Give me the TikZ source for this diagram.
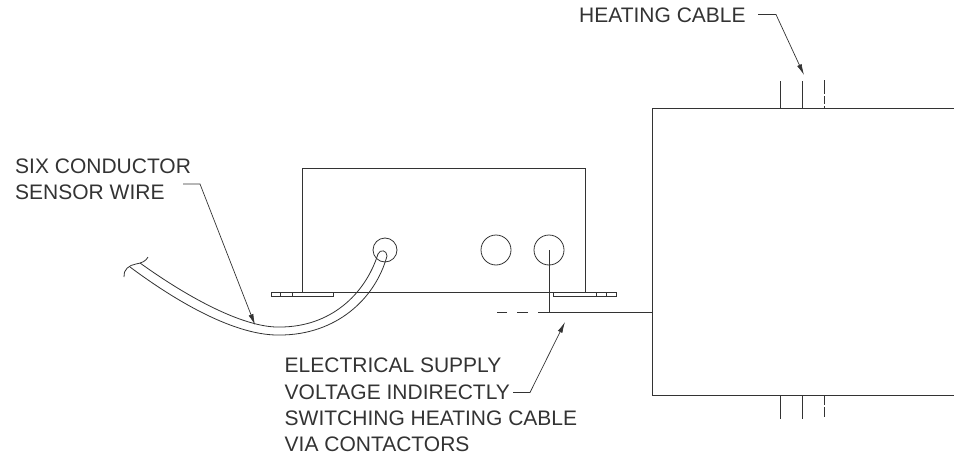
\documentclass[tikz,border=0pt]{standalone}
\usepackage{fontspec}
\setmainfont{Liberation Sans}
\usetikzlibrary{arrows.meta}
\definecolor{inkline}{HTML}{333333}
\tikzset{
  part/.style={draw=inkline,line width=1pt},
  thin part/.style={draw=inkline,line width=0.8pt},
  leader/.style={draw=inkline,line width=0.7pt,-{Latex[length=11pt,width=5pt]}},
  callout/.style={inner sep=0pt,anchor=north west,align=left,text=inkline,
    font=\fontsize{21}{26.3}\selectfont}
}
\begin{document}
\begin{tikzpicture}[x=1pt,y=-1pt]
\useasboundingbox (0,0) rectangle (954,455);

\node[callout] (heatlabel) at (579,7.5) {HEATING CABLE};
\node[callout] (sensorlabel) at (15,158.5) {SIX CONDUCTOR\\SENSOR WIRE};
\node[callout] (supplylabel) at (284.5,358) {ELECTRICAL SUPPLY\\VOLTAGE INDIRECTLY\\SWITCHING HEATING CABLE\\VIA CONTACTORS};

% enclosure
\draw[part] (302,292.5) -- (302,168) -- (585,168) -- (585,292.5);
\draw[part] (333,292.5) -- (553,292.5);
\draw[thin part]
(271,292.5) rectangle (333,296.5)
(280,292.5) -- (280,296.5)
(292,292.5) -- (292,296.5);
\draw[thin part]
(553,292.5) rectangle (616,296.5)
(596,292.5) -- (596,296.5)
(606,292.5) -- (606,296.5);
\node[circle,thin part,minimum size=24pt,inner sep=0pt] (sensorgland) at (385,250) {};
\node[circle,thin part,minimum size=30pt,inner sep=0pt] (sparegland) at (496,250) {};
\node[circle,thin part,minimum size=30pt,inner sep=0pt] (supplygland) at (549,250) {};

% panel
\draw[part] (954,108) -- (652,108) -- (652,395) -- (954,395);
\coordinate (panelfeed) at (652,312);
\draw[part] (549,250) -- (549,312) -- (panelfeed);
\draw[part,dash pattern=on 11pt off 10pt] (549,312) -- (497,312);

% heating cable
\foreach \x in {780,802} {
  \draw[thin part] (\x,81) -- (\x,108);
  \draw[thin part] (\x,395) -- (\x,419);
}
\draw[thin part,dash pattern=on 14pt off 2pt on 8pt off 2pt] (824,80) -- (824,108);
\draw[thin part,dash pattern=on 10pt off 2pt on 10pt off 2pt] (824,395) -- (824,418);

% sensor wire
\draw[thin part]
(140,263) .. controls (200,306) and (250,328) .. (280,327)
.. controls (330,327) and (365,295) .. (378,254);
\draw[thin part]
(130,267) .. controls (185,308) and (240,336) .. (280,335)
.. controls (335,335) and (375,300) .. (387,256);
\draw[thin part] (378,254) .. controls (380,249) and (387,250) .. (387,256);
\draw[thin part]
(124,277) .. controls (123,270) and (129,265) .. (136,264)
.. controls (142,263) and (146,261) .. (148,257);

% leaders
\coordinate (heatknee) at (776,14.5);
\draw[leader] (758,14.5) -- (heatknee) -- (804,75);
\coordinate (sensorknee) at (200,184);
\draw[leader] (183,184) -- (sensorknee) -- (255,325);
\coordinate (supplyknee) at (530,392.5);
\draw[leader] (513,392.5) -- (supplyknee) -- (565,322);
\end{tikzpicture}
\end{document}
